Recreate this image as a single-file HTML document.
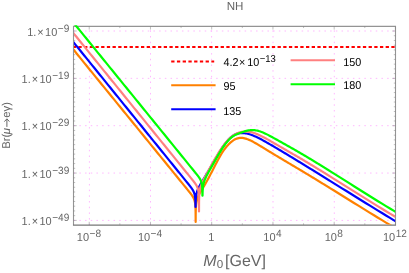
<!DOCTYPE html>
<html><head><meta charset="utf-8"><title>NH</title>
<style>
html,body{margin:0;padding:0;background:#fff;}
svg{display:block;will-change:transform;}
text{font-family:"Liberation Sans",sans-serif;text-rendering:geometricPrecision;}
</style></head><body>
<svg width="409" height="273" viewBox="0 0 409 273">
<rect width="409" height="273" fill="#fff"/>
<defs><clipPath id="c"><rect x="73.5" y="26.35" width="322.0" height="198.65"/></clipPath>
<clipPath id="c2"><rect x="74.0" y="25.35" width="321.1" height="199.15"/></clipPath></defs>

<g stroke="#ffb8ff" stroke-width="1" fill="none" clip-path="url(#c)">
<path d="M89.4,24.64 V225.0" stroke-dasharray="1.5 4.19"/>
<path d="M150.5,24.64 V225.0" stroke-dasharray="1.5 4.19"/>
<path d="M211.6,24.64 V225.0" stroke-dasharray="1.5 4.19"/>
<path d="M273.0,24.64 V225.0" stroke-dasharray="1.5 4.19"/>
<path d="M334.3,24.64 V225.0" stroke-dasharray="1.5 4.19"/>
<path d="M67.95,31.0 H395.5" stroke-dasharray="1.5 4.2"/>
<path d="M67.95,78.35 H395.5" stroke-dasharray="1.5 4.2"/>
<path d="M67.95,125.7 H395.5" stroke-dasharray="1.5 4.2"/>
<path d="M67.95,173.05 H395.5" stroke-dasharray="1.5 4.2"/>
<path d="M67.95,220.4 H395.5" stroke-dasharray="1.5 4.2"/>
</g>
<path d="M73.5,225.0 V26.35 H395.5 V225.0" fill="none" stroke="#949494" stroke-width="1.1" stroke-linejoin="miter"/>
<path d="M72.95,225.0 H396.05" fill="none" stroke="#767676" stroke-width="1.25"/>
<g stroke="#808080" stroke-width="0.5" fill="none">
<path d="M73.5,31.00 h3.2 M395.5,31.00 h-3.2"/>
<path d="M73.5,35.73 h1.7 M395.5,35.73 h-1.7"/>
<path d="M73.5,40.47 h1.7 M395.5,40.47 h-1.7"/>
<path d="M73.5,45.20 h1.7 M395.5,45.20 h-1.7"/>
<path d="M73.5,49.94 h1.7 M395.5,49.94 h-1.7"/>
<path d="M73.5,54.67 h1.7 M395.5,54.67 h-1.7"/>
<path d="M73.5,59.41 h1.7 M395.5,59.41 h-1.7"/>
<path d="M73.5,64.15 h1.7 M395.5,64.15 h-1.7"/>
<path d="M73.5,68.88 h1.7 M395.5,68.88 h-1.7"/>
<path d="M73.5,73.62 h1.7 M395.5,73.62 h-1.7"/>
<path d="M73.5,78.35 h3.2 M395.5,78.35 h-3.2"/>
<path d="M73.5,83.09 h1.7 M395.5,83.09 h-1.7"/>
<path d="M73.5,87.82 h1.7 M395.5,87.82 h-1.7"/>
<path d="M73.5,92.56 h1.7 M395.5,92.56 h-1.7"/>
<path d="M73.5,97.29 h1.7 M395.5,97.29 h-1.7"/>
<path d="M73.5,102.03 h1.7 M395.5,102.03 h-1.7"/>
<path d="M73.5,106.76 h1.7 M395.5,106.76 h-1.7"/>
<path d="M73.5,111.50 h1.7 M395.5,111.50 h-1.7"/>
<path d="M73.5,116.23 h1.7 M395.5,116.23 h-1.7"/>
<path d="M73.5,120.97 h1.7 M395.5,120.97 h-1.7"/>
<path d="M73.5,125.70 h3.2 M395.5,125.70 h-3.2"/>
<path d="M73.5,130.44 h1.7 M395.5,130.44 h-1.7"/>
<path d="M73.5,135.17 h1.7 M395.5,135.17 h-1.7"/>
<path d="M73.5,139.91 h1.7 M395.5,139.91 h-1.7"/>
<path d="M73.5,144.64 h1.7 M395.5,144.64 h-1.7"/>
<path d="M73.5,149.38 h1.7 M395.5,149.38 h-1.7"/>
<path d="M73.5,154.11 h1.7 M395.5,154.11 h-1.7"/>
<path d="M73.5,158.85 h1.7 M395.5,158.85 h-1.7"/>
<path d="M73.5,163.58 h1.7 M395.5,163.58 h-1.7"/>
<path d="M73.5,168.31 h1.7 M395.5,168.31 h-1.7"/>
<path d="M73.5,173.05 h3.2 M395.5,173.05 h-3.2"/>
<path d="M73.5,177.78 h1.7 M395.5,177.78 h-1.7"/>
<path d="M73.5,182.52 h1.7 M395.5,182.52 h-1.7"/>
<path d="M73.5,187.26 h1.7 M395.5,187.26 h-1.7"/>
<path d="M73.5,191.99 h1.7 M395.5,191.99 h-1.7"/>
<path d="M73.5,196.73 h1.7 M395.5,196.73 h-1.7"/>
<path d="M73.5,201.46 h1.7 M395.5,201.46 h-1.7"/>
<path d="M73.5,206.20 h1.7 M395.5,206.20 h-1.7"/>
<path d="M73.5,210.93 h1.7 M395.5,210.93 h-1.7"/>
<path d="M73.5,215.67 h1.7 M395.5,215.67 h-1.7"/>
<path d="M73.5,220.40 h3.2 M395.5,220.40 h-3.2"/>
<path d="M89.22,225.0 v-3.2 M89.22,26.35 v3.2"/>
<path d="M119.84,225.0 v-1.7 M119.84,26.35 v1.7"/>
<path d="M150.46,225.0 v-3.2 M150.46,26.35 v3.2"/>
<path d="M181.08,225.0 v-1.7 M181.08,26.35 v1.7"/>
<path d="M211.70,225.0 v-3.2 M211.70,26.35 v3.2"/>
<path d="M242.32,225.0 v-1.7 M242.32,26.35 v1.7"/>
<path d="M272.94,225.0 v-3.2 M272.94,26.35 v3.2"/>
<path d="M303.56,225.0 v-1.7 M303.56,26.35 v1.7"/>
<path d="M334.18,225.0 v-3.2 M334.18,26.35 v3.2"/>
<path d="M364.80,225.0 v-1.7 M364.80,26.35 v1.7"/>
<path d="M395.42,225.0 v-3.2 M395.42,26.35 v3.2"/>
</g>
<g clip-path="url(#c2)" fill="none" stroke-width="2.2" stroke-linejoin="round">
<path d="M72.7,47.1 H395.5" stroke="#ff0000" stroke-width="2" stroke-dasharray="3.3 2.39"/>
<path d="M66.00,40.49 L68.00,42.94 L70.00,45.40 L72.00,47.85 L74.00,50.31 L76.00,52.76 L78.00,55.22 L80.00,57.67 L82.00,60.13 L84.00,62.58 L86.00,65.04 L88.00,67.49 L90.00,69.95 L92.00,72.41 L94.00,74.86 L96.00,77.32 L98.00,79.77 L100.00,82.23 L102.00,84.68 L104.00,87.14 L106.00,89.59 L108.00,92.05 L110.00,94.50 L112.00,96.96 L114.00,99.41 L116.00,101.87 L118.00,104.33 L120.00,106.78 L122.00,109.24 L124.00,111.69 L126.00,114.15 L128.00,116.60 L130.00,119.06 L132.00,121.51 L134.00,123.97 L136.00,126.42 L138.00,128.88 L140.00,131.34 L142.00,133.79 L144.00,136.25 L146.00,138.70 L148.00,141.16 L150.00,143.61 L152.00,146.07 L154.00,148.52 L156.00,150.98 L158.00,153.43 L160.00,155.89 L162.00,158.34 L164.00,160.80 L166.00,163.26 L168.00,165.71 L170.00,168.17 L172.00,170.62 L174.00,173.08 L176.00,175.53 L178.00,177.99 L180.00,180.44 L182.00,182.90 L184.00,185.35 L186.00,187.81 L187.65,189.85 L187.90,190.15 L188.15,190.46 L188.40,190.77 L188.65,191.08 L188.90,191.40 L189.15,191.71 L189.40,192.02 L189.65,192.34 L189.90,192.65 L190.15,192.97 L190.40,193.29 L190.65,193.62 L190.90,193.94 L191.15,194.28 L191.40,194.61 L191.65,194.96 L191.90,195.31 L192.15,195.67 L192.40,196.04 L192.65,196.43 L192.90,196.84 L193.15,197.28 L193.40,197.74 L193.65,198.24 L193.90,198.80 L194.15,199.43 L194.17,199.49 L194.19,199.54 L194.21,199.60 L194.23,199.66 L194.25,199.71 L194.27,199.77 L194.29,199.83 L194.31,199.89 L194.33,199.95 L194.35,200.01 L194.37,200.08 L194.39,200.14 L194.41,200.20 L194.43,200.27 L194.45,200.34 L194.47,200.40 L194.49,200.47 L194.51,200.54 L194.53,200.61 L194.55,200.68 L194.57,200.76 L194.59,200.83 L194.61,200.91 L194.63,200.99 L194.65,201.06 L194.67,201.15 L194.69,201.23 L194.71,201.31 L194.73,201.40 L194.75,201.49 L194.77,201.57 L194.79,201.67 L194.81,201.76 L194.83,201.86 L194.85,201.95 L194.87,202.06 L194.89,202.16 L194.91,202.27 L194.93,202.37 L194.95,202.49 L194.97,202.60 L194.99,202.72 L195.01,202.84 L195.03,202.97 L195.05,203.10 L195.07,203.24 L195.09,203.38 L195.11,203.52 L195.13,203.67 L195.15,203.83 L195.17,204.00 L195.19,204.17 L195.21,204.34 L195.23,204.53 L195.25,204.73 L195.27,204.93 L195.29,205.15 L195.31,205.38 L195.33,205.63 L195.35,205.89 L195.37,206.16 L195.39,206.46 L195.41,206.79 L195.43,207.14 L195.45,207.53 L195.47,207.95 L195.49,208.43 L195.51,208.98 L195.53,209.61 L195.55,210.35 L195.57,211.26 L195.59,212.44 L195.61,214.10 L195.63,216.94 L195.66,221.90 L195.68,216.94 L195.70,214.52 L195.72,213.00 L195.74,211.89 L195.76,211.02 L195.78,210.29 L195.80,209.67 L195.82,209.14 L195.84,208.66 L195.86,208.23 L195.88,207.84 L195.90,207.48 L195.92,207.15 L195.94,206.85 L195.96,206.56 L195.98,206.29 L196.00,206.04 L196.02,205.80 L196.04,205.57 L196.06,205.36 L196.08,205.15 L196.10,204.96 L196.12,204.77 L196.14,204.59 L196.16,204.41 L196.18,204.25 L196.20,204.08 L196.22,203.93 L196.24,203.78 L196.26,203.63 L196.28,203.49 L196.30,203.35 L196.32,203.22 L196.34,203.08 L196.36,202.96 L196.38,202.83 L196.40,202.71 L196.42,202.60 L196.44,202.48 L196.46,202.37 L196.48,202.26 L196.50,202.15 L196.52,202.04 L196.54,201.94 L196.56,201.84 L196.58,201.74 L196.60,201.64 L196.62,201.55 L196.64,201.45 L196.66,201.36 L196.68,201.27 L196.70,201.18 L196.72,201.09 L196.74,201.01 L196.76,200.92 L196.78,200.84 L196.80,200.75 L196.82,200.67 L196.84,200.59 L196.86,200.51 L196.88,200.43 L196.90,200.36 L196.92,200.28 L196.94,200.21 L196.96,200.13 L196.98,200.06 L197.00,199.99 L197.02,199.91 L197.04,199.84 L197.06,199.77 L197.08,199.70 L197.10,199.63 L197.12,199.57 L197.14,199.50 L197.15,199.45 L197.40,198.66 L197.65,197.95 L197.90,197.30 L198.15,196.65 L198.40,196.03 L198.65,195.42 L198.90,194.84 L199.15,194.33 L199.40,193.88 L199.65,193.44 L199.90,193.00 L200.15,192.57 L200.40,192.15 L200.65,191.73 L200.90,191.31 L201.15,190.90 L201.40,190.48 L201.65,190.07 L201.90,189.66 L202.15,189.24 L202.40,188.83 L202.65,188.42 L202.90,188.00 L203.15,187.59 L203.40,187.17 L203.65,186.75 L203.90,186.33 L204.15,185.91 L204.40,185.48 L204.65,185.05 L204.90,184.63 L205.15,184.19 L205.40,183.75 L205.65,183.32 L206.65,181.54 L207.65,179.73 L208.65,177.88 L209.65,175.99 L210.65,174.09 L211.65,172.16 L212.65,170.22 L213.65,168.26 L214.65,166.31 L215.65,164.36 L216.65,162.44 L217.65,160.54 L218.65,158.69 L219.65,156.88 L220.65,155.14 L221.65,153.48 L222.65,151.90 L223.65,150.42 L224.65,149.03 L225.65,147.73 L226.65,146.51 L227.65,145.38 L228.65,144.32 L229.65,143.34 L230.65,142.44 L231.65,141.60 L232.65,140.84 L233.65,140.16 L234.65,139.57 L235.65,139.07 L236.65,138.65 L237.65,138.33 L238.65,138.09 L239.65,137.94 L240.65,137.87 L241.65,137.88 L242.65,137.96 L243.65,138.10 L244.65,138.32 L245.65,138.59 L246.65,138.91 L247.65,139.27 L248.65,139.68 L249.65,140.12 L250.65,140.59 L251.65,141.08 L252.65,141.60 L253.65,142.13 L254.65,142.68 L255.65,143.25 L256.65,143.82 L257.65,144.41 L258.65,145.00 L259.65,145.60 L260.65,146.21 L261.65,146.81 L262.65,147.42 L263.65,148.04 L264.65,148.65 L265.65,149.26 L266.65,149.87 L267.65,150.48 L268.65,151.09 L269.65,151.70 L270.65,152.31 L271.65,152.91 L272.65,153.52 L273.65,154.12 L274.65,154.73 L275.65,155.33 L276.65,155.93 L277.65,156.53 L278.65,157.13 L279.65,157.73 L280.65,158.32 L281.65,158.92 L282.65,159.51 L283.65,160.11 L284.65,160.70 L285.65,161.30 L286.65,161.89 L287.65,162.49 L288.65,163.08 L289.65,163.67 L290.65,164.26 L291.65,164.86 L292.65,165.45 L293.65,166.04 L294.65,166.64 L295.65,167.23 L296.65,167.83 L297.65,168.42 L298.65,169.02 L299.65,169.62 L300.65,170.21 L301.65,170.81 L302.65,171.41 L303.65,172.01 L304.65,172.62 L305.65,173.22 L306.65,173.82 L307.65,174.43 L308.65,175.03 L309.65,175.64 L310.65,176.24 L311.65,176.85 L312.65,177.46 L313.65,178.06 L314.65,178.67 L315.65,179.28 L316.65,179.89 L317.65,180.50 L318.65,181.12 L319.65,181.73 L320.65,182.34 L321.65,182.95 L322.65,183.57 L323.65,184.18 L324.65,184.80 L325.65,185.41 L326.65,186.03 L327.65,186.64 L328.65,187.26 L329.65,187.87 L330.00,188.09 L334.00,190.56 L338.00,193.03 L342.00,195.51 L346.00,197.99 L350.00,200.47 L354.00,202.94 L358.00,205.42 L362.00,207.89 L366.00,210.36 L370.00,212.82 L374.00,215.27 L378.00,217.71 L382.00,220.15 L386.00,222.57 L390.00,224.98 L394.00,227.38 L398.00,229.82" stroke="#ff8000"/>
<path d="M66.00,33.00 L68.00,35.47 L70.00,37.93 L72.00,40.40 L74.00,42.87 L76.00,45.34 L78.00,47.81 L80.00,50.27 L82.00,52.74 L84.00,55.21 L86.00,57.68 L88.00,60.15 L90.00,62.61 L92.00,65.08 L94.00,67.55 L96.00,70.02 L98.00,72.49 L100.00,74.95 L102.00,77.42 L104.00,79.89 L106.00,82.36 L108.00,84.83 L110.00,87.29 L112.00,89.76 L114.00,92.23 L116.00,94.70 L118.00,97.17 L120.00,99.63 L122.00,102.10 L124.00,104.57 L126.00,107.04 L128.00,109.51 L130.00,111.97 L132.00,114.44 L134.00,116.91 L136.00,119.38 L138.00,121.85 L140.00,124.31 L142.00,126.78 L144.00,129.25 L146.00,131.72 L148.00,134.19 L150.00,136.65 L152.00,139.12 L154.00,141.59 L156.00,144.06 L158.00,146.53 L160.00,148.99 L162.00,151.46 L164.00,153.93 L166.00,156.40 L168.00,158.87 L170.00,161.33 L172.00,163.80 L174.00,166.27 L176.00,168.74 L178.00,171.21 L180.00,173.67 L182.00,176.14 L184.00,178.61 L186.00,181.08 L187.55,183.00 L187.80,183.31 L188.05,183.63 L188.30,183.94 L188.55,184.25 L188.80,184.56 L189.05,184.88 L189.30,185.19 L189.55,185.51 L189.80,185.83 L190.05,186.15 L190.30,186.47 L190.55,186.80 L190.80,187.13 L191.05,187.47 L191.30,187.81 L191.55,188.16 L191.80,188.51 L192.05,188.88 L192.30,189.26 L192.55,189.65 L192.80,190.06 L193.05,190.50 L193.30,190.97 L193.55,191.48 L193.80,192.05 L194.05,192.69 L194.07,192.74 L194.09,192.80 L194.11,192.86 L194.13,192.91 L194.15,192.97 L194.17,193.03 L194.19,193.09 L194.21,193.15 L194.23,193.21 L194.25,193.28 L194.27,193.34 L194.29,193.40 L194.31,193.47 L194.33,193.53 L194.35,193.60 L194.37,193.67 L194.39,193.74 L194.41,193.81 L194.43,193.88 L194.45,193.95 L194.47,194.03 L194.49,194.10 L194.51,194.18 L194.53,194.26 L194.55,194.34 L194.57,194.42 L194.59,194.50 L194.61,194.59 L194.63,194.67 L194.65,194.76 L194.67,194.85 L194.69,194.94 L194.71,195.04 L194.73,195.13 L194.75,195.23 L194.77,195.34 L194.79,195.44 L194.81,195.55 L194.83,195.66 L194.85,195.77 L194.87,195.89 L194.89,196.01 L194.91,196.13 L194.93,196.26 L194.95,196.39 L194.97,196.53 L194.99,196.67 L195.01,196.81 L195.03,196.96 L195.05,197.12 L195.07,197.29 L195.09,197.46 L195.11,197.64 L195.13,197.83 L195.15,198.02 L195.17,198.23 L195.19,198.45 L195.21,198.68 L195.23,198.92 L195.25,199.19 L195.27,199.46 L195.29,199.76 L195.31,200.09 L195.33,200.44 L195.35,200.83 L195.37,201.26 L195.39,201.74 L195.41,202.28 L195.43,202.91 L195.45,203.66 L195.47,204.57 L195.49,205.75 L195.51,207.00 L195.53,207.00 L195.56,207.00 L195.58,207.00 L195.60,206.73 L195.62,205.22 L195.64,204.11 L195.66,203.23 L195.68,202.51 L195.70,201.89 L195.72,201.36 L195.74,200.88 L195.76,200.45 L195.78,200.06 L195.80,199.71 L195.82,199.38 L195.84,199.07 L195.86,198.79 L195.88,198.52 L195.90,198.27 L195.92,198.03 L195.94,197.80 L195.96,197.59 L195.98,197.38 L196.00,197.19 L196.02,197.00 L196.04,196.82 L196.06,196.65 L196.08,196.48 L196.10,196.32 L196.12,196.16 L196.14,196.01 L196.16,195.87 L196.18,195.73 L196.20,195.59 L196.22,195.46 L196.24,195.33 L196.26,195.20 L196.28,195.08 L196.30,194.96 L196.32,194.84 L196.34,194.73 L196.36,194.62 L196.38,194.51 L196.40,194.40 L196.42,194.30 L196.44,194.19 L196.46,194.09 L196.48,193.99 L196.50,193.90 L196.52,193.80 L196.54,193.71 L196.56,193.62 L196.58,193.53 L196.60,193.44 L196.62,193.35 L196.64,193.27 L196.66,193.18 L196.68,193.10 L196.70,193.02 L196.72,192.94 L196.74,192.86 L196.76,192.78 L196.78,192.70 L196.80,192.63 L196.82,192.55 L196.84,192.48 L196.86,192.40 L196.88,192.33 L196.90,192.26 L196.92,192.19 L196.94,192.12 L196.96,192.05 L196.98,191.98 L197.00,191.91 L197.02,191.85 L197.04,191.78 L197.05,191.73 L197.30,190.93 L197.55,190.20 L197.80,189.53 L198.05,188.91 L198.30,188.37 L198.55,187.84 L198.80,187.34 L199.05,186.86 L199.30,186.39 L199.55,185.92 L199.80,185.47 L200.05,185.03 L200.30,184.59 L200.55,184.16 L200.80,183.73 L201.05,183.30 L201.30,182.88 L201.55,182.46 L201.80,182.04 L202.05,181.62 L202.30,181.21 L202.55,180.79 L202.80,180.38 L203.05,179.96 L203.30,179.55 L203.55,179.14 L203.80,178.73 L204.05,178.31 L204.30,177.90 L204.55,177.49 L204.80,177.08 L205.05,176.66 L205.30,176.25 L205.55,175.83 L206.55,174.17 L207.55,172.50 L208.55,170.80 L209.55,169.10 L210.55,167.37 L211.55,165.63 L212.55,163.89 L213.55,162.14 L214.55,160.39 L215.55,158.65 L216.55,156.93 L217.55,155.23 L218.55,153.55 L219.55,151.90 L220.55,150.30 L221.55,148.74 L222.55,147.23 L223.55,145.79 L224.55,144.40 L225.55,143.09 L226.55,141.84 L227.55,140.67 L228.55,139.57 L229.55,138.56 L230.55,137.62 L231.55,136.78 L232.55,136.02 L233.55,135.35 L234.55,134.77 L235.55,134.28 L236.55,133.88 L237.55,133.56 L238.55,133.32 L239.55,133.15 L240.55,133.05 L241.55,133.01 L242.55,133.03 L243.55,133.09 L244.55,133.19 L245.55,133.33 L246.55,133.50 L247.55,133.71 L248.55,133.97 L249.55,134.25 L250.55,134.58 L251.55,134.93 L252.55,135.31 L253.55,135.72 L254.55,136.15 L255.55,136.60 L256.55,137.07 L257.55,137.55 L258.55,138.05 L259.55,138.56 L260.55,139.08 L261.55,139.60 L262.55,140.14 L263.55,140.69 L264.55,141.24 L265.55,141.80 L266.55,142.36 L267.55,142.93 L268.55,143.50 L269.55,144.08 L270.55,144.65 L271.55,145.23 L272.55,145.82 L273.55,146.40 L274.55,146.99 L275.55,147.58 L276.55,148.17 L277.55,148.77 L278.55,149.36 L279.55,149.96 L280.55,150.56 L281.55,151.15 L282.55,151.75 L283.55,152.35 L284.55,152.95 L285.55,153.56 L286.55,154.16 L287.55,154.76 L288.55,155.37 L289.55,155.97 L290.55,156.58 L291.55,157.18 L292.55,157.79 L293.55,158.40 L294.55,159.01 L295.55,159.62 L296.55,160.22 L297.55,160.83 L298.55,161.45 L299.55,162.06 L300.55,162.67 L301.55,163.28 L302.55,163.89 L303.55,164.51 L304.55,165.12 L305.55,165.73 L306.55,166.35 L307.55,166.96 L308.55,167.58 L309.55,168.19 L310.55,168.81 L311.55,169.43 L312.55,170.04 L313.55,170.66 L314.55,171.28 L315.55,171.90 L316.55,172.51 L317.55,173.13 L318.55,173.75 L319.55,174.37 L320.55,174.99 L321.55,175.61 L322.55,176.23 L323.55,176.85 L324.55,177.47 L325.55,178.09 L326.55,178.71 L327.55,179.33 L328.55,179.95 L329.55,180.58 L330.00,180.85 L334.00,183.34 L338.00,185.83 L342.00,188.32 L346.00,190.80 L350.00,193.29 L354.00,195.77 L358.00,198.25 L362.00,200.73 L366.00,203.21 L370.00,205.67 L374.00,208.14 L378.00,210.59 L382.00,213.04 L386.00,215.48 L390.00,217.91 L394.00,220.33 L398.00,222.79" stroke="#0000ff"/>
<path d="M66.00,23.98 L68.00,26.44 L70.00,28.91 L72.00,31.37 L74.00,33.84 L76.00,36.31 L78.00,38.77 L80.00,41.24 L82.00,43.70 L84.00,46.17 L86.00,48.64 L88.00,51.10 L90.00,53.57 L92.00,56.03 L94.00,58.50 L96.00,60.97 L98.00,63.43 L100.00,65.90 L102.00,68.36 L104.00,70.83 L106.00,73.30 L108.00,75.76 L110.00,78.23 L112.00,80.69 L114.00,83.16 L116.00,85.63 L118.00,88.09 L120.00,90.56 L122.00,93.02 L124.00,95.49 L126.00,97.96 L128.00,100.42 L130.00,102.89 L132.00,105.35 L134.00,107.82 L136.00,110.29 L138.00,112.75 L140.00,115.22 L142.00,117.68 L144.00,120.15 L146.00,122.62 L148.00,125.08 L150.00,127.55 L152.00,130.01 L154.00,132.48 L156.00,134.95 L158.00,137.41 L160.00,139.88 L162.00,142.34 L164.00,144.81 L166.00,147.28 L168.00,149.74 L170.00,152.21 L172.00,154.67 L174.00,157.14 L176.00,159.61 L178.00,162.07 L180.00,164.54 L182.00,167.00 L184.00,169.47 L186.00,171.94 L188.00,174.40 L190.00,176.87 L191.00,178.11 L191.25,178.42 L191.50,178.73 L191.75,179.04 L192.00,179.35 L192.25,179.66 L192.50,179.97 L192.75,180.29 L193.00,180.60 L193.25,180.92 L193.50,181.23 L193.75,181.55 L194.00,181.88 L194.25,182.20 L194.50,182.53 L194.75,182.86 L195.00,183.20 L195.25,183.55 L195.50,183.91 L195.75,184.27 L196.00,184.65 L196.25,185.05 L196.50,185.48 L196.75,185.93 L197.00,186.42 L197.25,186.97 L197.50,187.58 L197.52,187.64 L197.54,187.69 L197.56,187.75 L197.58,187.80 L197.60,187.86 L197.62,187.91 L197.64,187.97 L197.66,188.03 L197.68,188.09 L197.70,188.15 L197.72,188.21 L197.74,188.27 L197.76,188.34 L197.78,188.40 L197.80,188.46 L197.82,188.53 L197.84,188.60 L197.86,188.67 L197.88,188.73 L197.90,188.81 L197.92,188.88 L197.94,188.95 L197.96,189.03 L197.98,189.10 L198.00,189.18 L198.02,189.26 L198.04,189.34 L198.06,189.42 L198.08,189.50 L198.10,189.59 L198.12,189.68 L198.14,189.77 L198.16,189.86 L198.18,189.96 L198.20,190.05 L198.22,190.15 L198.24,190.25 L198.26,190.36 L198.28,190.47 L198.30,190.58 L198.32,190.69 L198.34,190.81 L198.36,190.93 L198.38,191.05 L198.40,191.18 L198.42,191.32 L198.44,191.46 L198.46,191.60 L198.48,191.75 L198.50,191.90 L198.52,192.06 L198.54,192.23 L198.56,192.41 L198.58,192.60 L198.60,192.79 L198.62,192.99 L198.64,193.21 L198.66,193.44 L198.68,193.68 L198.70,193.94 L198.72,194.22 L198.74,194.51 L198.76,194.83 L198.78,195.19 L198.80,195.57 L198.82,196.00 L198.84,196.47 L198.86,197.01 L198.88,197.64 L198.90,198.38 L198.92,199.29 L198.94,200.47 L198.96,202.13 L198.98,204.97 L199.00,211.42 L199.03,204.79 L199.05,202.36 L199.07,200.84 L199.09,199.73 L199.11,198.85 L199.13,198.12 L199.15,197.50 L199.17,196.96 L199.19,196.48 L199.21,196.05 L199.23,195.65 L199.25,195.29 L199.27,194.96 L199.29,194.65 L199.31,194.36 L199.33,194.09 L199.35,193.83 L199.37,193.59 L199.39,193.36 L199.41,193.14 L199.43,192.93 L199.45,192.73 L199.47,192.54 L199.49,192.35 L199.51,192.18 L199.53,192.01 L199.55,191.84 L199.57,191.68 L199.59,191.53 L199.61,191.38 L199.63,191.23 L199.65,191.09 L199.67,190.95 L199.69,190.82 L199.71,190.69 L199.73,190.56 L199.75,190.43 L199.77,190.31 L199.79,190.19 L199.81,190.08 L199.83,189.96 L199.85,189.85 L199.87,189.74 L199.89,189.64 L199.91,189.53 L199.93,189.43 L199.95,189.33 L199.97,189.23 L199.99,189.13 L200.01,189.03 L200.03,188.94 L200.05,188.85 L200.07,188.76 L200.09,188.68 L200.11,188.59 L200.13,188.51 L200.15,188.42 L200.17,188.34 L200.19,188.26 L200.21,188.18 L200.23,188.10 L200.25,188.03 L200.27,187.95 L200.29,187.87 L200.31,187.80 L200.33,187.72 L200.35,187.65 L200.37,187.58 L200.39,187.51 L200.41,187.44 L200.43,187.37 L200.45,187.30 L200.47,187.23 L200.49,187.16 L200.50,187.11 L200.75,186.32 L201.00,185.60 L201.25,184.94 L201.50,184.31 L201.75,183.72 L202.00,183.15 L202.25,182.59 L202.50,182.06 L202.75,181.53 L203.00,181.02 L203.25,180.51 L203.50,180.01 L203.75,179.51 L204.00,179.02 L204.25,178.53 L204.50,178.05 L204.75,177.57 L205.00,177.09 L205.25,176.61 L205.50,176.14 L205.75,175.66 L206.00,175.19 L206.25,174.72 L206.50,174.25 L206.75,173.78 L207.00,173.31 L207.25,172.85 L207.50,172.38 L207.75,171.92 L208.00,171.45 L208.25,170.99 L208.50,170.53 L208.75,170.07 L209.00,169.61 L210.00,167.77 L211.00,165.96 L212.00,164.15 L213.00,162.37 L214.00,160.60 L215.00,158.86 L216.00,157.14 L217.00,155.45 L218.00,153.80 L219.00,152.18 L220.00,150.61 L221.00,149.08 L222.00,147.61 L223.00,146.19 L224.00,144.82 L225.00,143.52 L226.00,142.29 L227.00,141.13 L228.00,140.03 L229.00,139.01 L230.00,138.07 L231.00,137.19 L232.00,136.39 L233.00,135.65 L234.00,134.99 L235.00,134.39 L236.00,133.86 L237.00,133.39 L238.00,132.98 L239.00,132.62 L240.00,132.32 L241.00,132.07 L242.00,131.88 L243.00,131.73 L244.00,131.63 L245.00,131.58 L246.00,131.58 L247.00,131.62 L248.00,131.70 L249.00,131.82 L250.00,131.98 L251.00,132.18 L252.00,132.42 L253.00,132.69 L254.00,133.00 L255.00,133.34 L256.00,133.71 L257.00,134.11 L258.00,134.53 L259.00,134.97 L260.00,135.43 L261.00,135.91 L262.00,136.41 L263.00,136.92 L264.00,137.45 L265.00,137.99 L266.00,138.53 L267.00,139.09 L268.00,139.65 L269.00,140.22 L270.00,140.79 L271.00,141.37 L272.00,141.95 L273.00,142.53 L274.00,143.11 L275.00,143.69 L276.00,144.26 L277.00,144.84 L278.00,145.42 L279.00,146.00 L280.00,146.58 L281.00,147.16 L282.00,147.74 L283.00,148.31 L284.00,148.89 L285.00,149.47 L286.00,150.04 L287.00,150.62 L288.00,151.19 L289.00,151.77 L290.00,152.35 L291.00,152.92 L292.00,153.50 L293.00,154.08 L294.00,154.65 L295.00,155.23 L296.00,155.81 L297.00,156.39 L298.00,156.97 L299.00,157.56 L300.00,158.14 L301.00,158.73 L302.00,159.32 L303.00,159.91 L304.00,160.50 L305.00,161.10 L306.00,161.70 L307.00,162.29 L308.00,162.89 L309.00,163.49 L310.00,164.10 L311.00,164.70 L312.00,165.30 L313.00,165.91 L314.00,166.52 L315.00,167.13 L316.00,167.74 L317.00,168.35 L318.00,168.96 L319.00,169.57 L320.00,170.19 L321.00,170.80 L322.00,171.42 L323.00,172.04 L324.00,172.65 L325.00,173.27 L326.00,173.89 L327.00,174.51 L328.00,175.13 L329.00,175.75 L330.00,176.38 L334.00,178.87 L338.00,181.38 L342.00,183.88 L346.00,186.40 L350.00,188.91 L354.00,191.42 L358.00,193.93 L362.00,196.43 L366.00,198.92 L370.00,201.41 L374.00,203.88 L378.00,206.34 L382.00,208.78 L386.00,211.20 L390.00,213.60 L394.00,215.98 L398.00,218.45" stroke="#ff8080"/>
<path d="M66.00,13.42 L68.00,15.89 L70.00,18.35 L72.00,20.81 L74.00,23.27 L76.00,25.73 L78.00,28.20 L80.00,30.66 L82.00,33.12 L84.00,35.58 L86.00,38.04 L88.00,40.51 L90.00,42.97 L92.00,45.43 L94.00,47.89 L96.00,50.35 L98.00,52.82 L100.00,55.28 L102.00,57.74 L104.00,60.20 L106.00,62.66 L108.00,65.13 L110.00,67.59 L112.00,70.05 L114.00,72.51 L116.00,74.97 L118.00,77.44 L120.00,79.90 L122.00,82.36 L124.00,84.82 L126.00,87.28 L128.00,89.75 L130.00,92.21 L132.00,94.67 L134.00,97.13 L136.00,99.59 L138.00,102.06 L140.00,104.52 L142.00,106.98 L144.00,109.44 L146.00,111.90 L148.00,114.37 L150.00,116.83 L152.00,119.29 L154.00,121.75 L156.00,124.21 L158.00,126.68 L160.00,129.14 L162.00,131.60 L164.00,134.06 L166.00,136.52 L168.00,138.99 L170.00,141.45 L172.00,143.91 L174.00,146.37 L176.00,148.83 L178.00,151.30 L180.00,153.76 L182.00,156.22 L184.00,158.68 L186.00,161.14 L188.00,163.61 L190.00,166.07 L192.00,168.53 L194.00,171.00 L194.45,171.55 L194.70,171.86 L194.95,172.17 L195.20,172.48 L195.45,172.79 L195.70,173.10 L195.95,173.41 L196.20,173.72 L196.45,174.03 L196.70,174.35 L196.95,174.66 L197.20,174.98 L197.45,175.30 L197.70,175.62 L197.95,175.95 L198.20,176.28 L198.45,176.61 L198.70,176.96 L198.95,177.31 L199.20,177.67 L199.45,178.04 L199.70,178.44 L199.95,178.85 L200.20,179.29 L200.45,179.77 L200.70,180.31 L200.95,180.91 L200.97,180.96 L200.99,181.02 L201.01,181.07 L201.03,181.13 L201.05,181.18 L201.07,181.24 L201.09,181.29 L201.11,181.35 L201.13,181.41 L201.15,181.47 L201.17,181.53 L201.19,181.59 L201.21,181.65 L201.23,181.71 L201.25,181.78 L201.27,181.84 L201.29,181.91 L201.31,181.97 L201.33,182.04 L201.35,182.11 L201.37,182.18 L201.39,182.25 L201.41,182.33 L201.43,182.40 L201.45,182.48 L201.47,182.56 L201.49,182.64 L201.51,182.72 L201.53,182.80 L201.55,182.88 L201.57,182.97 L201.59,183.06 L201.61,183.15 L201.63,183.24 L201.65,183.34 L201.67,183.44 L201.69,183.54 L201.71,183.64 L201.73,183.75 L201.75,183.86 L201.77,183.97 L201.79,184.08 L201.81,184.20 L201.83,184.33 L201.85,184.45 L201.87,184.59 L201.89,184.72 L201.91,184.87 L201.93,185.01 L201.95,185.17 L201.97,185.33 L201.99,185.50 L202.01,185.67 L202.03,185.85 L202.05,186.05 L202.07,186.25 L202.09,186.46 L202.11,186.69 L202.13,186.93 L202.15,187.19 L202.17,187.46 L202.19,187.76 L202.21,188.08 L202.23,188.43 L202.25,188.81 L202.27,189.24 L202.29,189.71 L202.31,190.25 L202.33,190.87 L202.35,191.62 L202.37,192.52 L202.39,193.70 L202.41,195.35 L202.43,195.70 L202.45,195.70 L202.47,195.70 L202.50,195.70 L202.52,195.70 L202.54,194.78 L202.56,193.90 L202.58,193.17 L202.60,192.55 L202.62,192.01 L202.64,191.54 L202.66,191.10 L202.68,190.71 L202.70,190.35 L202.72,190.02 L202.74,189.71 L202.76,189.42 L202.78,189.15 L202.80,188.90 L202.82,188.66 L202.84,188.43 L202.86,188.21 L202.88,188.00 L202.90,187.80 L202.92,187.61 L202.94,187.43 L202.96,187.25 L202.98,187.08 L203.00,186.92 L203.02,186.76 L203.04,186.61 L203.06,186.46 L203.08,186.32 L203.10,186.18 L203.12,186.04 L203.14,185.91 L203.16,185.78 L203.18,185.66 L203.20,185.54 L203.22,185.42 L203.24,185.30 L203.26,185.19 L203.28,185.08 L203.30,184.97 L203.32,184.86 L203.34,184.75 L203.36,184.65 L203.38,184.55 L203.40,184.45 L203.42,184.35 L203.44,184.26 L203.46,184.17 L203.48,184.07 L203.50,183.98 L203.52,183.89 L203.54,183.80 L203.56,183.72 L203.58,183.63 L203.60,183.55 L203.62,183.46 L203.64,183.38 L203.66,183.30 L203.68,183.22 L203.70,183.14 L203.72,183.06 L203.74,182.99 L203.76,182.91 L203.78,182.84 L203.80,182.76 L203.82,182.69 L203.84,182.62 L203.86,182.54 L203.88,182.47 L203.90,182.40 L203.92,182.33 L203.94,182.26 L203.95,182.21 L204.20,181.41 L204.45,180.69 L204.70,180.02 L204.95,179.38 L205.20,178.79 L205.45,178.22 L205.70,177.67 L205.95,177.13 L206.20,176.62 L206.45,176.11 L206.70,175.61 L206.95,175.12 L207.20,174.63 L207.45,174.16 L207.70,173.68 L207.95,173.21 L208.20,172.75 L208.45,172.29 L208.70,171.83 L208.95,171.37 L209.20,170.92 L209.45,170.47 L209.70,170.02 L209.95,169.57 L210.20,169.13 L210.45,168.68 L210.70,168.24 L210.95,167.80 L211.20,167.35 L211.45,166.91 L211.70,166.47 L211.95,166.03 L212.20,165.59 L212.45,165.15 L213.45,163.39 L214.45,161.62 L215.45,159.86 L216.45,158.10 L217.45,156.36 L218.45,154.64 L219.45,152.96 L220.45,151.31 L221.45,149.70 L222.45,148.15 L223.45,146.66 L224.45,145.23 L225.45,143.87 L226.45,142.58 L227.45,141.38 L228.45,140.25 L229.45,139.22 L230.45,138.27 L231.45,137.42 L232.45,136.66 L233.45,135.99 L234.45,135.40 L235.45,134.87 L236.45,134.40 L237.45,133.97 L238.45,133.57 L239.45,133.18 L240.45,132.81 L241.45,132.44 L242.45,132.09 L243.45,131.75 L244.45,131.43 L245.45,131.14 L246.45,130.87 L247.45,130.63 L248.45,130.43 L249.45,130.27 L250.45,130.15 L251.45,130.08 L252.45,130.05 L253.45,130.08 L254.45,130.16 L255.45,130.29 L256.45,130.47 L257.45,130.69 L258.45,130.94 L259.45,131.24 L260.45,131.57 L261.45,131.93 L262.45,132.32 L263.45,132.74 L264.45,133.18 L265.45,133.65 L266.45,134.13 L267.45,134.63 L268.45,135.14 L269.45,135.66 L270.45,136.20 L271.45,136.74 L272.45,137.29 L273.45,137.84 L274.45,138.39 L275.45,138.95 L276.45,139.50 L277.45,140.06 L278.45,140.62 L279.45,141.18 L280.45,141.74 L281.45,142.30 L282.45,142.86 L283.45,143.42 L284.45,143.98 L285.45,144.55 L286.45,145.11 L287.45,145.67 L288.45,146.24 L289.45,146.80 L290.45,147.37 L291.45,147.94 L292.45,148.51 L293.45,149.08 L294.45,149.65 L295.45,150.22 L296.45,150.79 L297.45,151.37 L298.45,151.95 L299.45,152.53 L300.45,153.11 L301.45,153.70 L302.45,154.28 L303.45,154.87 L304.45,155.47 L305.45,156.06 L306.45,156.66 L307.45,157.25 L308.45,157.85 L309.45,158.45 L310.45,159.06 L311.45,159.66 L312.45,160.27 L313.45,160.88 L314.45,161.49 L315.45,162.10 L316.45,162.71 L317.45,163.32 L318.45,163.94 L319.45,164.55 L320.45,165.17 L321.45,165.79 L322.45,166.41 L323.45,167.03 L324.45,167.65 L325.45,168.27 L326.45,168.89 L327.45,169.52 L328.45,170.14 L329.45,170.76 L330.00,171.11 L334.00,173.61 L338.00,176.13 L342.00,178.65 L346.00,181.17 L350.00,183.69 L354.00,186.22 L358.00,188.73 L362.00,191.25 L366.00,193.75 L370.00,196.25 L374.00,198.73 L378.00,201.20 L382.00,203.65 L386.00,206.08 L390.00,208.50 L394.00,210.89 L398.00,213.39" stroke="#00ff00"/>
</g>
<text transform="translate(235.00,10.45) scale(1.0,1)" font-size="11.6" fill="#666" text-anchor="middle">NH</text>
<text transform="translate(69.30,35.70) scale(0.95,1)" font-size="11.5" fill="#666" text-anchor="end">1.<tspan dx="1.0">×</tspan><tspan dx="1.5">10</tspan><tspan dx="0.6" dy="-4.2" font-size="10.6">−9</tspan></text>
<text transform="translate(69.30,83.05) scale(0.95,1)" font-size="11.5" fill="#666" text-anchor="end">1.<tspan dx="1.0">×</tspan><tspan dx="1.5">10</tspan><tspan dx="0.6" dy="-4.2" font-size="10.6">−19</tspan></text>
<text transform="translate(69.30,130.40) scale(0.95,1)" font-size="11.5" fill="#666" text-anchor="end">1.<tspan dx="1.0">×</tspan><tspan dx="1.5">10</tspan><tspan dx="0.6" dy="-4.2" font-size="10.6">−29</tspan></text>
<text transform="translate(69.30,177.75) scale(0.95,1)" font-size="11.5" fill="#666" text-anchor="end">1.<tspan dx="1.0">×</tspan><tspan dx="1.5">10</tspan><tspan dx="0.6" dy="-4.2" font-size="10.6">−39</tspan></text>
<text transform="translate(69.30,225.10) scale(0.95,1)" font-size="11.5" fill="#666" text-anchor="end">1.<tspan dx="1.0">×</tspan><tspan dx="1.5">10</tspan><tspan dx="0.6" dy="-4.2" font-size="10.6">−49</tspan></text>
<text transform="translate(88.90,241.00) scale(0.95,1)" font-size="11.6" fill="#666" text-anchor="middle">10<tspan dy="-4.4" dx="0.5" font-size="10.6">−8</tspan></text>
<text transform="translate(150.00,241.00) scale(0.95,1)" font-size="11.6" fill="#666" text-anchor="middle">10<tspan dy="-4.4" dx="0.5" font-size="10.6">−4</tspan></text>
<text transform="translate(211.40,241.00) scale(0.95,1)" font-size="11.6" fill="#666" text-anchor="middle">1</text>
<text transform="translate(272.50,241.00) scale(0.95,1)" font-size="11.6" fill="#666" text-anchor="middle">10<tspan dy="-4.4" dx="0.5" font-size="10.6">4</tspan></text>
<text transform="translate(333.80,241.00) scale(0.95,1)" font-size="11.6" fill="#666" text-anchor="middle">10<tspan dy="-4.4" dx="0.5" font-size="10.6">8</tspan></text>
<text transform="translate(394.90,241.00) scale(0.95,1)" font-size="11.6" fill="#666" text-anchor="middle">10<tspan dy="-4.4" dx="0.5" font-size="10.6">12</tspan></text>
<g transform="translate(10.4,148.8) rotate(-90)" fill="#666" font-size="11.4"><text x="0" y="0">Br(</text><text x="14.6" y="0" font-style="italic">μ</text><path d="M21.9,-3.5 H29.7 M27.2,-6 L30,-3.5 L27.2,-1" stroke="#666" stroke-width="1" fill="none"/><text x="31.0" y="0">eγ)</text></g>
<text x="203.2" y="265.6" font-size="16" fill="#666"><tspan font-style="italic">M</tspan><tspan font-size="11.6" dy="2.8" dx="0.3">0</tspan><tspan dy="-2.8" dx="1.8">[GeV]</tspan></text>
<g fill="none" stroke-width="2">
<path d="M171.2,61.5 H214.2" stroke="#ff0000" stroke-dasharray="3.3 2.435"/>
<path d="M171.2,85.2 H215.6" stroke="#ff8000"/>
<path d="M171.2,109.3 H215.6" stroke="#0000ff"/>
<path d="M290.6,60.2 H335" stroke="#ff8080"/>
<path d="M290.6,84.2 H335" stroke="#00ff00"/>
</g>
<text transform="translate(223.50,66.20) scale(0.95,1)" font-size="11.4" fill="#000" text-anchor="start">4.2<tspan dx="0.6">×</tspan><tspan dx="1.8">10</tspan><tspan dy="-4.3" dx="0.5" font-size="10">−13</tspan></text>
<text transform="translate(223.50,90.40) scale(0.95,1)" font-size="11.4" fill="#000" text-anchor="start">95</text>
<text transform="translate(223.20,114.70) scale(0.95,1)" font-size="11.4" fill="#000" text-anchor="start">135</text>
<text transform="translate(343.20,65.80) scale(0.95,1)" font-size="11.4" fill="#000" text-anchor="start">150</text>
<text transform="translate(343.20,89.40) scale(0.95,1)" font-size="11.4" fill="#000" text-anchor="start">180</text>
</svg></body></html>
